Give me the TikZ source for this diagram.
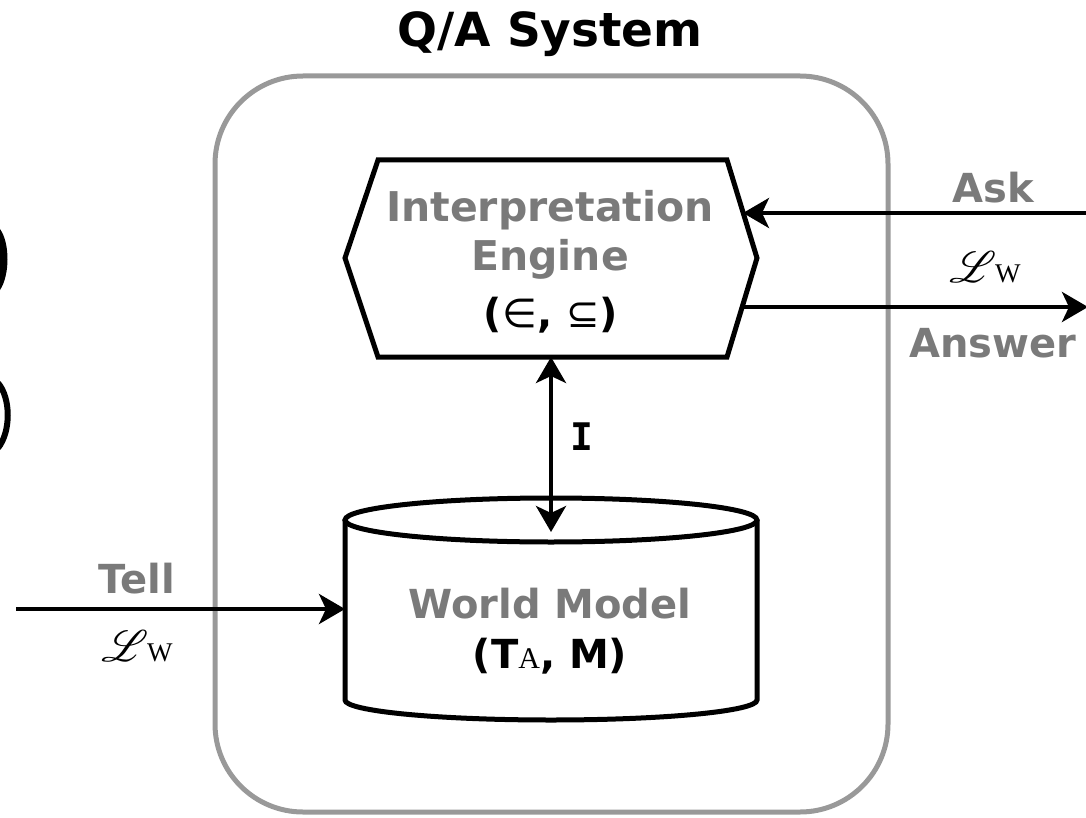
\documentclass[tikz,border=0pt]{standalone}
\usepackage{fontspec}
\usepackage{mathrsfs}
\setmainfont{DejaVu Sans}
\newfontfamily\monob{DejaVu Sans Mono}
\newfontfamily\serifA{Liberation Serif}
\usetikzlibrary{arrows.meta}
\definecolor{txtgray}{HTML}{7A7A7A}
\definecolor{boxgray}{HTML}{999999}
\tikzset{
  lbl/.style={font=\fontsize{40}{48}\selectfont\bfseries, text=txtgray, inner sep=0pt, anchor=base},
  blk/.style={font=\fontsize{40}{48}\selectfont\bfseries, text=black, inner sep=0pt, anchor=base},
  arr/.style={line width=4pt, -{Stealth[length=26pt,width=30pt,inset=7pt]}},
  darr/.style={line width=4pt, {Stealth[length=26pt,width=30pt,inset=7pt]}-{Stealth[length=26pt,width=30pt,inset=7pt]}},
  shapeline/.style={line width=5pt, line join=miter},
}
\newcommand{\LW}{\scalebox{4.4}{$\mathscr{L}$}\kern-1pt{\serifA\fontsize{27}{30}\selectfont W}}
\begin{document}
\begin{tikzpicture}[x=1pt,y=-1pt]
\useasboundingbox (0,0) rectangle (1086,818);
% partial glyph fragments at left edge
\fill (0,229) .. controls (10,243) and (10,275) .. (0,290) -- cycle;
\draw[line width=6pt] (-2,383) .. controls (11,398) and (11,432) .. (-2,448);
% title
\node[blk, font=\fontsize{47}{52}\selectfont\bfseries] (title) at (550,47) {Q/A System};
% outer system box
\draw[boxgray, line width=5pt, rounded corners=88pt] (215,76) rectangle (888,812);
% hexagon
\coordinate (hL) at (345,258);
\coordinate (hTL) at (378,160);
\coordinate (hTR) at (727,160);
\coordinate (hR) at (757,258);
\coordinate (hBR) at (727,357);
\coordinate (hBL) at (378,357);
\draw[shapeline, fill=white] (hL) -- (hTL) -- (hTR) -- (hR) -- (hBR) -- (hBL) -- cycle;
\node[lbl, font=\fontsize{41}{48}\selectfont\bfseries] (ie1) at (550,222) {Interpretation};
\node[lbl, font=\fontsize{41}{48}\selectfont\bfseries] (ie2) at (550,270) {Engine};
\node[blk] (ie3) at (551,327) {({\mdseries\char"2208}, {\mdseries\char"2286})};
% cylinder
\draw[shapeline, fill=white] (345,520) -- (345,700) arc[start angle=180, end angle=0, x radius=206, y radius=20] -- (757,520);
\draw[shapeline] (551,520) ellipse[x radius=206, y radius=22];
\node[lbl] (wm1) at (550,618) {World Model};
\node[blk] (wm2) at (550,668) {(T{\mdseries\serifA\fontsize{30}{34}\selectfont A}, M)};
\coordinate (wmW) at (345,609);
\coordinate (wmTop) at (551,532);
\coordinate (ieBot) at (551,357);
% I arrow
\draw[darr] (ieBot) -- (wmTop);
\node[blk, font=\fontsize{38}{44}\selectfont\monob\bfseries] (ilbl) at (582,450) {I};
% Ask / Answer
\coordinate (askR) at (1092,213);
\coordinate (ieAsk) at (743,213);
\coordinate (ieAns) at (742,307);
\coordinate (ansR) at (1088,307);
\draw[arr] (askR) -- (ieAsk);
\draw[arr] (ieAns) -- (ansR);
\node[lbl] (ask) at (993,203) {Ask};
\node[inner sep=0pt, anchor=base] (lw1) at (985,282) {\LW};
\node[lbl] (answer) at (993,357) {Answer};
% Tell
\coordinate (tellL) at (16,609);
\draw[arr] (tellL) -- (wmW);
\node[lbl] (tell) at (137,593) {Tell};
\node[inner sep=0pt, anchor=base] (lw2) at (137,661) {\LW};
\end{tikzpicture}
\end{document}
